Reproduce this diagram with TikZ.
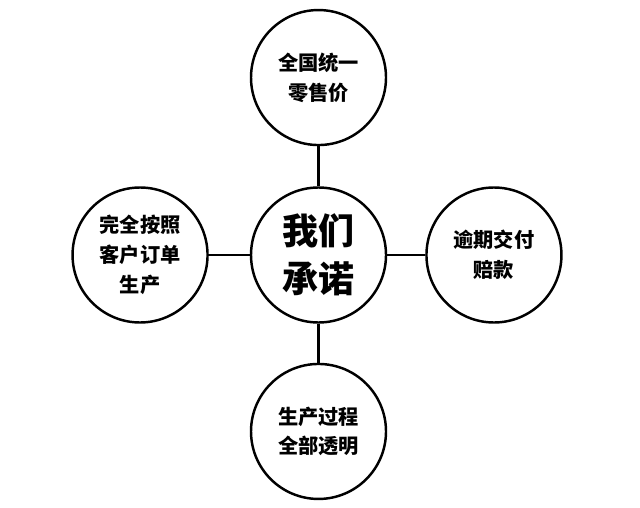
\documentclass[tikz,border=0pt]{standalone}
\usepackage{fontspec}
\setmainfont{Noto Sans CJK SC}
\usepackage{tikz}
\usetikzlibrary{positioning}

\tikzset{
    promise/.style={draw, circle, line width=1.4pt, minimum size=2.7cm, inner sep=0pt,
        align=center, font=\bfseries\fontsize{11.5}{17}\selectfont},
    core/.style={promise, font=\bfseries\fontsize{20.5}{27.5}\selectfont}
}

\begin{document}
\begin{tikzpicture}[node distance=0.8cm]
        \useasboundingbox (0,0) rectangle (12.8,-10.14);
        % Center
        \node[core] (core) at (6.37,-5.1) {我们\\承诺};

        % Promises
        \node[promise, above=of core] (price) {全国统一\\零售价};
        \node[promise, below=0.78cm of core] (open) {生产过程\\全部透明};
        \node[promise, left=0.82cm of core] (order) {完全按照\\客户订单\\生产};
        \node[promise, right=0.76cm of core] (refund) {逾期交付\\赔款};

        % Links
        \draw[line width=1.2pt] (core) -- (price);
        \draw[line width=1.2pt] (core) -- (open);
        \draw[line width=1.2pt] (core) -- (order);
        \draw[line width=1.2pt] (core) -- (refund);
    \end{tikzpicture}
\end{document}
